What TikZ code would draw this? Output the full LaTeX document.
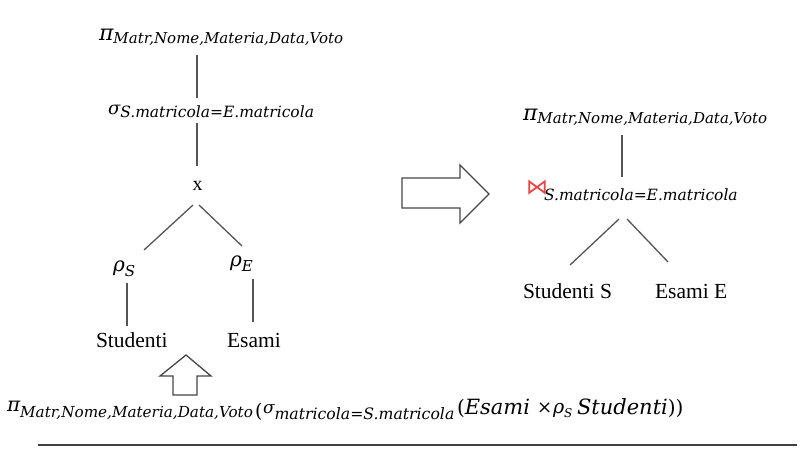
\documentclass[tikz,border=0pt]{standalone}
\usepackage{fontspec}
\setmainfont{Liberation Serif}
\newfontfamily\dvs{DejaVu Serif}
\newfontfamily\dvsans{DejaVu Sans}
\definecolor{linegray}{RGB}{85,85,85}
\definecolor{arrowgray}{RGB}{70,70,70}
\definecolor{joinred}{RGB}{232,70,70}
\newcommand\gk[2]{{\dvs\itshape\fontsize{#1}{#1}\selectfont #2}}
\newcommand\sbx[3]{\raisebox{-#1pt}{\dvs\itshape\fontsize{#2}{#2}\selectfont #3}}
\newcommand\up[2]{{\dvs\fontsize{#1}{#1}\selectfont #2}}
\newcommand\rmtxt[1]{{\fontsize{21.5}{24}\selectfont #1}}
\begin{document}
\begin{tikzpicture}[x=1pt,y=-1pt,
  conn/.style={draw=linegray,line width=1.3pt},
  lbl/.style={anchor=base west,inner sep=0pt,outer sep=0pt},
  fatarrow/.style={draw=arrowgray,line width=1.3pt,line join=miter,fill=white},
  rulefoot/.style={draw=black!75,line width=1.2pt}]
\useasboundingbox (0,0) rectangle (802,450);

% ---------------- left tree ----------------
\node[lbl] (piL) at (99,40) {\gk{22}{π}\sbx{3.5}{15}{Matr,Nome,Materia,Data,Voto}};
\node[lbl] (sigL) at (108,114) {\gk{18}{σ}\sbx{3}{15.5}{S.matricola=E.matricola}};
\node[anchor=base,inner sep=0pt] (xL) at (197.5,190) {\fontsize{20}{20}\selectfont x};
\node[lbl] (rhoS) at (113,271) {\gk{20}{ρ}\sbx{5}{15}{S}};
\node[lbl] (rhoE) at (230,266) {\gk{20}{ρ}\sbx{5}{15}{E}};
\node[lbl] (studL) at (96,347) {\rmtxt{Studenti}};
\node[lbl] (esamiL) at (227,347) {\rmtxt{Esami}};

\coordinate (a1) at (197,55);  \coordinate (a2) at (197,98);
\coordinate (b1) at (197,123); \coordinate (b2) at (197,166);
\coordinate (c1) at (193,205); \coordinate (c2) at (144,250);
\coordinate (d1) at (199,205); \coordinate (d2) at (242,246);
\coordinate (e1) at (127,283); \coordinate (e2) at (127,326);
\coordinate (f1) at (253,279); \coordinate (f2) at (253,322);
\draw[conn] (a1) -- (a2);
\draw[conn] (b1) -- (b2);
\draw[conn] (c1) -- (c2);
\draw[conn] (d1) -- (d2);
\draw[conn] (e1) -- (e2);
\draw[conn] (f1) -- (f2);

% up arrow
\draw[fatarrow] (186,355) -- (211,376) -- (197,376) -- (197,395) -- (173,395) -- (173,376) -- (160,376) -- cycle;

% right arrow
\draw[fatarrow] (402,178) -- (460,178) -- (460,165) -- (489,194) -- (460,223) -- (460,208) -- (402,208) -- cycle;

% ---------------- right tree ----------------
\node[lbl] (piR) at (523,120) {\gk{22}{π}\sbx{3}{15}{Matr,Nome,Materia,Data,Voto}};
\node[lbl] (joinR) at (526,194) {\makebox[18pt][l]{\dvsans\color{joinred}\fontsize{22}{22}\selectfont ⋈}\sbx{6}{15.5}{S.matricola=E.matricola}};
\node[lbl] (studR) at (523,298) {\rmtxt{Studenti S}};
\node[lbl] (esamiR) at (655,298) {\rmtxt{Esami E}};

\coordinate (g1) at (622,135); \coordinate (g2) at (622,177);
\coordinate (h1) at (619,219); \coordinate (h2) at (570,265);
\coordinate (i1) at (627,219); \coordinate (i2) at (668,262);
\draw[conn] (g1) -- (g2);
\draw[conn] (h1) -- (h2);
\draw[conn] (i1) -- (i2);

% ---------------- bottom formula ----------------
\node[lbl] (piB) at (7,411) {\gk{20}{π}\sbx{6}{15.2}{Matr,Nome,Materia,Data,Voto}};
\node[lbl] (parB) at (255,417) {\up{19}{(}};
\node[lbl] (sigB) at (263,413) {\gk{17}{σ}\sbx{6}{15.7}{matricola=S.matricola}};
\node[lbl] (esB) at (457,414) {\up{20}{(}\gk{21}{Esami}};
\node[lbl] (timesB) at (537,413) {\up{18}{×}};
\node[lbl] (rhoB) at (553,413) {\gk{19}{ρ}\sbx{4}{12}{S}};
\node[lbl] (stB) at (577,414) {\gk{21}{Studenti}\up{20}{))}};

\coordinate (r1) at (38,445); \coordinate (r2) at (797,445);
\draw[rulefoot] (r1) -- (r2);
\end{tikzpicture}
\end{document}
